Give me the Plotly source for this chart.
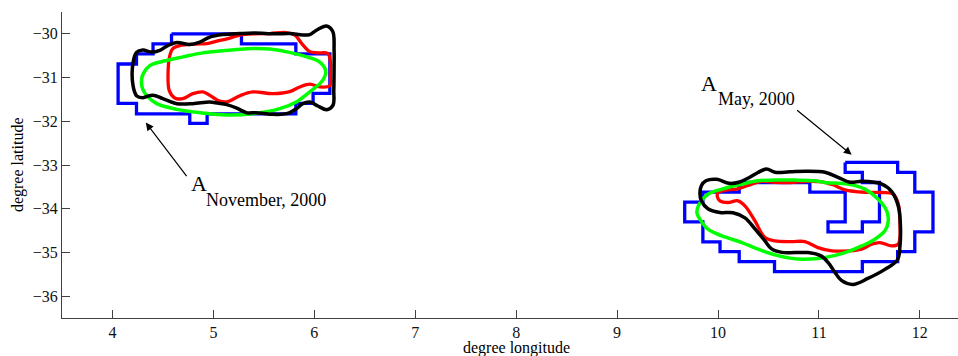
import plotly.graph_objects as go

# ---------------- data (degrees longitude / latitude) ----------------
x_ticks = [4, 5, 6, 7, 8, 9, 10, 11, 12]
y_ticks = [-36, -35, -34, -33, -32, -31, -30]

# November 2000 cluster
nov_blue_lon = [4.585, 5.278, 5.278, 5.817, 5.817, 6.154, 6.154, 5.988, 5.988, 5.817, 5.817, 4.938, 4.938,
                4.766, 4.766, 4.238, 4.238, 4.056, 4.056, 4.238, 4.238, 4.402, 4.402, 4.585, 4.585]
nov_blue_lat = [-30.0, -30.0, -30.23, -30.23, -30.46, -30.46, -31.36, -31.36, -31.59, -31.59, -31.83, -31.83, -32.05,
                -32.05, -31.83, -31.83, -31.59, -31.59, -30.69, -30.69, -30.46, -30.46, -30.23, -30.23, -30.0]

nov_red_lon = [4.568, 4.598, 4.667, 4.816, 4.935, 5.034, 5.143, 5.263, 5.410, 5.559, 5.718, 5.807, 5.876, 5.955,
               6.035, 6.134, 6.159, 6.159, 6.154, 6.055, 5.955, 5.856, 5.757, 5.589, 5.391, 5.263, 5.143, 5.063,
               4.994, 4.895, 4.796, 4.697, 4.617, 4.563, 4.551, 4.568]
nov_red_lat = [-30.497, -30.337, -30.268, -30.234, -30.222, -30.165, -30.108, -30.027, -29.998, -29.993, -29.970,
               -30.027, -30.222, -30.406, -30.435, -30.451, -30.635, -30.955, -31.184, -31.214, -31.150, -31.214,
               -31.322, -31.368, -31.329, -31.414, -31.551, -31.540, -31.449, -31.329, -31.368, -31.482, -31.466,
               -31.299, -30.887, -30.497]

nov_green_lon = [4.287, 4.305, 4.370, 4.499, 4.697, 4.895, 5.063, 5.232, 5.390, 5.559, 5.727, 5.926, 6.055, 6.114,
                 6.094, 6.055, 5.955, 5.826, 5.658, 5.390, 5.133, 4.895, 4.637, 4.439, 4.340, 4.300, 4.287]
nov_green_lat = [-31.093, -30.910, -30.726, -30.628, -30.527, -30.435, -30.394, -30.360, -30.337, -30.348, -30.412,
                 -30.527, -30.646, -30.864, -31.024, -31.139, -31.329, -31.551, -31.711, -31.826, -31.856, -31.810,
                 -31.727, -31.597, -31.414, -31.265, -31.093]

nov_black_lon = [4.204, 4.238, 4.300, 4.389, 4.469, 4.548, 4.637, 4.766, 4.865, 4.964, 5.093, 5.262, 5.410, 5.609,
                 5.757, 5.886, 5.955, 6.025, 6.121, 6.183, 6.196, 6.196, 6.193, 6.186, 6.124, 6.035, 5.955, 5.886,
                 5.824, 5.727, 5.559, 5.420, 5.328, 5.232, 5.133, 5.044, 4.964, 4.796, 4.637, 4.499, 4.399, 4.300,
                 4.241, 4.204, 4.204]
nov_black_lat = [-30.658, -30.428, -30.371, -30.417, -30.376, -30.268, -30.199, -30.245, -30.188, -30.073, -30.016,
                 -29.993, -29.982, -30.000, -29.993, -30.027, -30.016, -29.913, -29.821, -29.947, -30.383, -30.795,
                 -31.299, -31.631, -31.734, -31.650, -31.558, -31.597, -31.711, -31.826, -31.837, -31.803, -31.803,
                 -31.700, -31.620, -31.585, -31.558, -31.597, -31.597, -31.482, -31.402, -31.459, -31.420, -31.184,
                 -30.658]

# May 2000 cluster
may_blue_lon = [11.26, 11.78, 11.78, 11.95, 11.95, 12.13, 12.13, 11.95, 11.95, 11.78, 11.78, 11.43, 11.43, 10.56,
                10.56, 10.21, 10.21, 10.02, 10.02, 9.85, 9.85, 9.67, 9.67, 9.85, 9.85, 10.21, 10.21, 10.91, 10.91,
                11.26, 11.26, 11.09, 11.09, 11.43, 11.43, 11.60, 11.60, 11.43, 11.43, 11.26, 11.26]
may_blue_lat = [-32.94, -32.94, -33.17, -33.17, -33.62, -33.62, -34.53, -34.53, -34.98, -34.98, -35.21, -35.21,
                -35.44, -35.44, -35.21, -35.21, -34.98, -34.98, -34.76, -34.76, -34.30, -34.30, -33.85, -33.85,
                -33.62, -33.62, -33.40, -33.40, -33.62, -33.62, -34.30, -34.30, -34.53, -34.53, -34.30, -34.30,
                -33.40, -33.40, -33.17, -33.17, -32.94]

may_red_lon = [9.999, 10.068, 10.197, 10.336, 10.435, 10.564, 10.713, 10.891, 11.030, 11.139, 11.258, 11.456,
               11.624, 11.736, 11.786, 11.803, 11.786, 11.721, 11.604, 11.522, 11.423, 11.287, 11.129, 10.990,
               10.861, 10.729, 10.564, 10.465, 10.366, 10.267, 10.197, 10.098, 10.019, 9.994, 9.999]
may_red_lat = [-33.636, -33.579, -33.544, -33.437, -33.377, -33.395, -33.400, -33.372, -33.384, -33.453, -33.567,
               -33.624, -33.629, -33.666, -33.888, -34.346, -34.811, -34.850, -34.774, -34.811, -34.926, -34.965,
               -34.965, -34.889, -34.752, -34.752, -34.736, -34.660, -34.277, -33.934, -33.819, -33.858, -33.819,
               -33.727, -33.636]

may_green_lon = [9.791, 9.806, 9.900, 10.039, 10.237, 10.396, 10.564, 10.762, 10.961, 11.060, 11.288, 11.456,
                 11.585, 11.671, 11.687, 11.654, 11.555, 11.426, 11.258, 11.060, 10.861, 10.729, 10.564, 10.396,
                 10.237, 10.039, 9.900, 9.820, 9.791]
may_green_lat = [-34.094, -33.934, -33.670, -33.551, -33.437, -33.361, -33.345, -33.345, -33.361, -33.400, -33.437,
                 -33.551, -33.780, -34.048, -34.277, -34.506, -34.697, -34.850, -35.004, -35.118, -35.155, -35.136,
                 -35.056, -34.926, -34.774, -34.621, -34.467, -34.238, -34.094]

may_black_lon = [9.821, 9.835, 9.880, 9.989, 10.108, 10.207, 10.296, 10.396, 10.482, 10.564, 10.713, 10.871,
                 11.060, 11.188, 11.307, 11.426, 11.624, 11.723, 11.788, 11.808, 11.803, 11.778, 11.654, 11.485,
                 11.337, 11.223, 11.159, 11.094, 11.020, 10.891, 10.762, 10.633, 10.531, 10.465, 10.366, 10.267,
                 10.148, 10.019, 9.900, 9.835, 9.821]
may_black_lat = [-33.659, -33.475, -33.361, -33.327, -33.418, -33.395, -33.304, -33.171, -33.093, -33.166, -33.155,
                 -33.143, -33.166, -33.281, -33.395, -33.372, -33.437, -33.613, -33.957, -34.415, -34.850, -35.171,
                 -35.388, -35.595, -35.732, -35.640, -35.457, -35.240, -35.079, -35.004, -35.004, -34.999, -34.919,
                 -34.736, -34.461, -34.209, -34.094, -34.087, -34.002, -33.819, -33.659]

# annotation anchors
nov_arrow_tail = (4.746, -33.29)
nov_arrow_head = (4.330, -32.03)
may_arrow_tail = (10.769, -31.72)
may_arrow_head = (11.324, -32.765)
nov_label_A = (4.768, -33.43)
nov_label_sub = (4.915, -33.80)
may_label_A = (9.821, -31.14)
may_label_sub = (9.986, -31.48)

FONT = "Liberation Serif, Times New Roman, serif"

fig = go.Figure()

def add(lon, lat, color, width, shape):
    fig.add_trace(go.Scatter(x=lon, y=lat, mode="lines",
                             line=dict(color=color, width=width, shape=shape,
                                       smoothing=1.0 if shape == "spline" else None),
                             hoverinfo="skip", showlegend=False))

add(nov_blue_lon, nov_blue_lat, "#0000FF", 3.3, "linear")
add(may_blue_lon, may_blue_lat, "#0000FF", 3.3, "linear")
add(nov_red_lon, nov_red_lat, "#FF0000", 3.3, "spline")
add(may_red_lon, may_red_lat, "#FF0000", 3.3, "spline")
add(nov_green_lon, nov_green_lat, "#00FF00", 3.5, "spline")
add(may_green_lon, may_green_lat, "#00FF00", 3.5, "spline")
add(nov_black_lon, nov_black_lat, "#000000", 3.5, "spline")
add(may_black_lon, may_black_lat, "#000000", 3.5, "spline")

annotations = []
for tail, head in [(nov_arrow_tail, nov_arrow_head), (may_arrow_tail, may_arrow_head)]:
    annotations.append(dict(x=head[0], y=head[1], ax=tail[0], ay=tail[1], xref="x", yref="y",
                            axref="x", ayref="y", text="", showarrow=True, arrowhead=2,
                            arrowsize=1.3, arrowwidth=1.2, arrowcolor="#000000", standoff=0, startstandoff=0))

for pos, txt, size in [(nov_label_A, "A", 22), (nov_label_sub, "November, 2000", 18),
                       (may_label_A, "A", 22), (may_label_sub, "May, 2000", 18)]:
    annotations.append(dict(x=pos[0], y=pos[1], xref="x", yref="y", text=txt, showarrow=False,
                            xanchor="left", yanchor="middle", borderpad=0,
                            font=dict(family=FONT, size=size, color="#000000")))

annotations.append(dict(x=8, y=-0.062, xref="x", yref="paper", text="degree longitude", showarrow=False,
                        xanchor="center", yanchor="top", font=dict(family=FONT, size=16, color="#000000")))
annotations.append(dict(x=-0.049, y=0.5, xref="paper", yref="paper", text="degree latitude", showarrow=False,
                        textangle=-90, xanchor="center", yanchor="middle",
                        font=dict(family=FONT, size=16, color="#000000")))

fig.update_layout(
    width=958, height=356,
    margin=dict(l=62, r=0, t=12, b=38),
    paper_bgcolor="white", plot_bgcolor="white",
    showlegend=False,
    annotations=annotations,
    font=dict(family=FONT, size=16, color="#000000"),
)
fig.update_xaxes(range=[3.5, 12.378], tickvals=x_ticks, ticks="inside", ticklen=8, tickwidth=1,
                 tickcolor="#404040", showline=True, linecolor="#404040", linewidth=1,
                 showgrid=False, zeroline=False, tickfont=dict(family=FONT, size=16, color="#111"))
fig.update_yaxes(range=[-36.5, -29.5], tickvals=y_ticks, ticks="inside", ticklen=8, tickwidth=1,
                 tickcolor="#404040", showline=True, linecolor="#404040", linewidth=1,
                 showgrid=False, zeroline=False, tickfont=dict(family=FONT, size=16, color="#111"))

fig.write_html("out.html")
